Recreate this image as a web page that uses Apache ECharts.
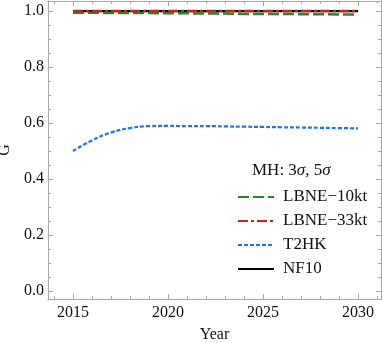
<!DOCTYPE html>
<html>
<head>
<meta charset="utf-8">
<script src="https://cdn.jsdelivr.net/npm/echarts@6/dist/echarts.min.js"></script>
<style>
  html, body { margin: 0; padding: 0; background: #fff; }
  #main { width: 382px; height: 343px; }
</style>
</head>
<body>
<div id="main"></div>
<script>
// data
var years = [2015, 2016, 2017, 2018, 2019, 2020, 2021, 2022, 2023, 2024, 2025, 2026, 2027, 2028, 2029, 2030];
var lbne10 = [0.994, 0.994, 0.993, 0.993, 0.993, 0.992, 0.992, 0.991, 0.991, 0.990, 0.990, 0.990, 0.989, 0.989, 0.988, 0.988];
var lbne33 = [1.0, 1.0, 1.0, 1.0, 1.0, 1.0, 1.0, 1.0, 1.0, 1.0, 1.0, 1.0, 1.0, 1.0, 1.0, 1.0];
var t2hk = [0.500, 0.538, 0.566, 0.582, 0.589, 0.590, 0.589, 0.589, 0.588, 0.587, 0.586, 0.585, 0.584, 0.583, 0.582, 0.581];
var nf10 = [1.0, 1.0, 1.0, 1.0, 1.0, 1.0, 1.0, 1.0, 1.0, 1.0, 1.0, 1.0, 1.0, 1.0, 1.0, 1.0];

var xMajor = [2015, 2020, 2025, 2030];
var xMinor = [2014, 2016, 2017, 2018, 2019, 2021, 2022, 2023, 2024, 2026, 2027, 2028, 2029, 2031];
var yMajor = [0, 0.2, 0.4, 0.6, 0.8, 1.0];
var yMinor = [0.05, 0.1, 0.15, 0.25, 0.3, 0.35, 0.45, 0.5, 0.55, 0.65, 0.7, 0.75, 0.85, 0.9, 0.95];

var X_MIN = 2013.684, X_MAX = 2031.21;
var Y_MIN = -0.0286, Y_MAX = 1.036;

var FONT = 'Liberation Serif';
var frameColor = '#a8a8a8';

function pairs(ys) {
  return years.map(function (y, i) { return [y, ys[i]]; });
}

// one axis per side and tick kind, so major and minor ticks can differ in length
function frameAxis(pos, min, max, ticks, len, labels, extra) {
  var a = {
    type: 'value',
    position: pos,
    min: min,
    max: max,
    splitLine: { show: false },
    axisLine: { show: true, onZero: false, lineStyle: { color: frameColor, width: 1 } },
    axisTick: { show: true, inside: true, length: len, customValues: ticks,
                lineStyle: { color: frameColor, width: 1 } },
    axisLabel: labels ? labels : { show: false }
  };
  if (extra) { for (var k in extra) a[k] = extra[k]; }
  return a;
}

var chart = echarts.init(document.getElementById('main'));

chart.setOption({
  animation: false,
  backgroundColor: '#fff',
  title: {
    text: 'MH: 3{i|σ}, 5{i|σ}',
    left: 252,
    top: 162,
    padding: 0,
    textStyle: {
      fontFamily: FONT, fontSize: 17, fontWeight: 'normal', color: '#111',
      rich: { i: { fontFamily: FONT, fontStyle: 'italic', fontSize: 17, color: '#111' } }
    }
  },
  legend: {
    orient: 'vertical',
    left: 237,
    top: 187,
    padding: 0,
    itemWidth: 36,
    itemHeight: 14,
    itemGap: 4,
    itemStyle: { opacity: 0 },
    data: ['LBNE−10kt', 'LBNE−33kt', 'T2HK', 'NF10'],
    textStyle: { fontFamily: FONT, fontSize: 17, color: '#111', lineHeight: 20, padding: [0, 0, 0, 4] }
  },
  grid: { left: 48, right: 1, top: 1, bottom: 44, outerBoundsMode: 'none', containLabel: false },
  xAxis: [
    frameAxis('bottom', X_MIN, X_MAX, xMajor, 5, {
      show: true, customValues: xMajor, margin: 6,
      fontFamily: FONT, fontSize: 16, color: '#111',
      formatter: function (v) { return String(v); }
    }, { name: 'Year', nameLocation: 'middle', nameGap: 28,
         nameTextStyle: { fontFamily: FONT, fontSize: 16, color: '#111' } }),
    frameAxis('bottom', X_MIN, X_MAX, xMinor, 3),
    frameAxis('top', X_MIN, X_MAX, xMajor, 5),
    frameAxis('top', X_MIN, X_MAX, xMinor, 3)
  ],
  yAxis: [
    frameAxis('left', Y_MIN, Y_MAX, yMajor, 5, {
      show: true, customValues: yMajor, margin: 4,
      fontFamily: FONT, fontSize: 16, color: '#111',
      formatter: function (v) { return v.toFixed(1); }
    }, { name: 'G', nameLocation: 'middle', nameGap: 34,
         nameTextStyle: { fontFamily: FONT, fontSize: 16, color: '#111' } }),
    frameAxis('left', Y_MIN, Y_MAX, yMinor, 3),
    frameAxis('right', Y_MIN, Y_MAX, yMajor, 5),
    frameAxis('right', Y_MIN, Y_MAX, yMinor, 3)
  ],
  series: [
    {
      name: 'LBNE−10kt', type: 'line', symbol: 'none', z: 3,
      data: pairs(lbne10),
      lineStyle: { color: '#1f8a26', width: 2.5, type: [11, 4] },
      itemStyle: { color: '#1f8a26' }
    },
    {
      name: 'LBNE−33kt', type: 'line', symbol: 'none', z: 4,
      data: pairs(lbne33),
      lineStyle: { color: '#cc1f1f', width: 2.5, type: [10, 3, 3, 3] },
      itemStyle: { color: '#cc1f1f' }
    },
    {
      name: 'T2HK', type: 'line', symbol: 'none', smooth: true, z: 3,
      data: pairs(t2hk),
      lineStyle: { color: '#1a72ee', width: 2.2, type: [4, 2] },
      itemStyle: { color: '#1a72ee' }
    },
    {
      name: 'NF10', type: 'line', symbol: 'none', z: 2,
      data: pairs(nf10),
      lineStyle: { color: '#000', width: 2.2 },
      itemStyle: { color: '#000' }
    }
  ]
});
</script>
</body>
</html>
